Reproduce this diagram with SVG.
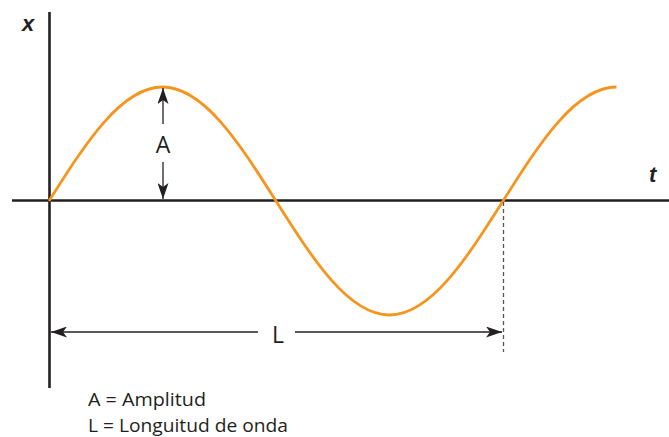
<svg xmlns="http://www.w3.org/2000/svg" width="669" height="437" viewBox="0 0 669 437">
<style>
.ax{stroke:#231f20;stroke-width:2.6;fill:none}
.dim{stroke:#231f20;stroke-width:1.3;fill:none}
.wave{stroke:#f7941d;stroke-width:2.8;fill:none}
.lbl{font-family:"Open Sans","Liberation Sans",sans-serif;fill:#231f20}
.axl{font-family:"Liberation Sans",sans-serif;font-weight:bold;font-style:italic;font-size:22px;fill:#231f20}
</style>
<defs>
<marker id="ah" viewBox="0 0 16 11" refX="16" refY="5.5" markerWidth="16" markerHeight="11" markerUnits="userSpaceOnUse" orient="auto">
<path d="M0,0 L16,5.5 L0,11 L4,5.5 Z" fill="#231f20"/>
</marker>
</defs>
<g id="axes">
<line class="ax" x1="49.5" y1="12" x2="49.5" y2="388"/>
<line class="ax" x1="12" y1="200.5" x2="669" y2="200.5"/>
<text class="axl" x="22" y="31">x</text>
<text class="axl" x="649" y="182">t</text>
</g>
<g id="wave">
<path class="wave" d="M49,201 C86,142.6 121.4,87 162.5,87 C203.6,87 239,142.6 276,201 C313,259.4 348.4,315 389.5,315 C430.6,315 466,259.4 503,201 C540,142.6 575.4,87 616.5,87"/>
</g>
<g id="connectors">
<line class="dim" x1="163" y1="124" x2="163" y2="88" marker-end="url(#ah)"/>
<line class="dim" x1="163" y1="162" x2="163" y2="199" marker-end="url(#ah)"/>
<line class="dim" x1="258" y1="332" x2="51" y2="332" marker-end="url(#ah)"/>
<line class="dim" x1="295" y1="332" x2="502" y2="332" marker-end="url(#ah)"/>
<line x1="503.5" y1="202" x2="503.5" y2="352" stroke="#555" stroke-width="1.3" stroke-dasharray="4 3"/>
</g>
<g id="labels">
<text class="lbl" x="163" y="153" font-size="23" text-anchor="middle">A</text>
<text class="lbl" x="278" y="343" font-size="23" text-anchor="middle">L</text>
<text class="lbl" x="88" y="405.5" font-size="19" textLength="118" lengthAdjust="spacingAndGlyphs">A = Amplitud</text>
<text class="lbl" x="88" y="431.5" font-size="19" textLength="200" lengthAdjust="spacingAndGlyphs">L = Longuitud de onda</text>
</g>
</svg>
